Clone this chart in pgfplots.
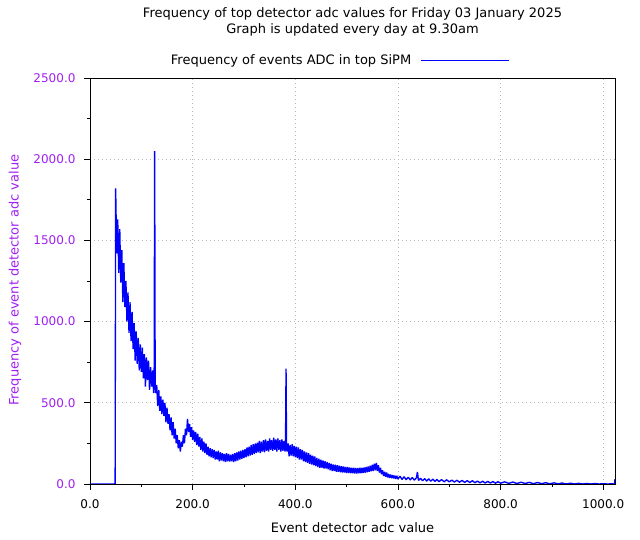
\documentclass[border=0pt]{standalone}
\usepackage{pgfplots}
\pgfplotsset{compat=1.18}
\usepackage{fontspec}
\setmainfont{DejaVu Sans}
\definecolor{gpurple}{RGB}{160,32,240}
\definecolor{gblue}{RGB}{0,0,255}
\begin{document}
\fontsize{13bp}{15bp}\selectfont
\begin{tikzpicture}[x=1bp,y=1bp]
\useasboundingbox (-90,-56) rectangle (550,484);
\begin{axis}[
  at={(0,0)}, anchor=south west,
  scale only axis, width=525bp, height=406bp,
  xmin=0, xmax=1023, ymin=0, ymax=2500,
  xtick={0,200,400,600,800,1000},
  ytick={0,500,1000,1500,2000,2500},
  minor x tick num=1, minor y tick num=1,
  tick align=outside, xtick pos=bottom, ytick pos=left,
  major tick length=6bp, minor tick length=3bp,
  tick style={black, line width=0.7bp},
  axis line style={line width=0.9bp},
  grid=major, major grid style={gray!55, dash pattern=on 1bp off 3bp, line width=0.8bp},
  /pgf/number format/assume math mode=true,
  /pgf/number format/.cd, fixed, fixed zerofill, precision=1, 1000 sep={},
  /pgfplots/.cd,
  yticklabel style={text=gpurple, font=\fontsize{12bp}{14bp}\selectfont, xshift=-4bp},
  xticklabel style={font=\fontsize{12bp}{14bp}\selectfont, yshift=-5bp},
  xlabel={Event detector adc value},
  ylabel={Frequency of event detector adc value},
  ylabel style={text=gpurple, font=\fontsize{13bp}{15bp}\selectfont, at={(axis description cs:-0.1429,0.502)}, anchor=center},
  xlabel style={font=\fontsize{13bp}{15bp}\selectfont, at={(axis description cs:0.5,-0.1084)}, anchor=center},
  legend plot pos=right,
  legend style={draw=none, fill=none, at={(axis description cs:0.150,1.042)}, anchor=west,
    font=\fontsize{13bp}{15bp}\selectfont, inner sep=0pt},
  legend image code/.code={\path[draw=none] (0bp,0bp) -- (8bp,0bp); \draw[#1, line width=1bp] (8bp,0bp) -- (96bp,0bp);},
]
\addplot[gblue, line width=1.35bp, line join=bevel] coordinates {
(0,0)(49,0)(50,1820)(52,1420)(54,1630)(56,1300)(58,1570)(60,1240)(62,1440)(64,1120)(66,1360)(68,1090)
(70,1250)(72,1000)(74,1180)(76,930)(78,1120)(80,880)(82,1060)(84,830)(86,990)(88,760)(90,940)(92,740)
(94,900)(96,700)(98,860)(100,690)(102,840)(104,650)(106,800)(108,600)(110,780)(112,640)(114,760)(116,580)
(118,720)(120,600)(122,700)(124,560)(125,650)(126,2050)(127,600)(128,560)(130,610)(132,480)(134,580)(136,450)
(138,540)(140,430)(142,520)(144,420)(146,500)(148,380)(150,470)(152,370)(154,430)(156,330)(158,410)(160,300)
(162,380)(164,280)(166,340)(168,250)(170,300)(172,220)(174,270)(176,200)(178,260)(180,230)(182,300)(184,250)
(186,340)(188,300)(190,400)(192,320)(194,370)(196,290)(198,350)(200,270)(202,330)(204,260)(206,320)(208,240)
(210,310)(212,230)(214,290)(216,210)(218,280)(220,200)(222,260)(224,190)(226,250)(228,180)(230,230)(232,170)
(234,220)(236,165)(238,215)(240,160)(242,210)(244,150)(246,200)(248,150)(250,205)(252,140)(254,195)(256,145)
(258,190)(260,140)(262,185)(264,135)(266,190)(268,140)(270,185)(272,138)(274,180)(276,140)(278,185)(280,135)
(282,190)(284,140)(286,195)(288,145)(290,200)(292,150)(294,205)(296,155)(298,210)(300,160)(302,215)(304,165)
(306,225)(308,170)(310,230)(312,175)(314,240)(316,180)(318,245)(320,185)(322,250)(324,190)(326,255)(328,195)
(330,265)(332,190)(334,260)(336,200)(338,270)(340,195)(342,275)(344,205)(346,265)(348,200)(350,280)(352,210)
(354,270)(356,205)(358,285)(360,210)(362,275)(364,200)(366,280)(368,210)(370,270)(372,200)(374,275)(376,205)
(378,265)(380,200)(381,250)(382,710)(383,220)(384,200)(386,250)(388,170)(390,240)(392,175)(394,245)(396,170)
(398,235)(400,165)(402,230)(404,160)(406,225)(408,150)(410,215)(412,150)(414,210)(416,140)(418,200)(420,135)
(422,195)(424,130)(426,190)(428,125)(430,180)(432,120)(434,175)(436,115)(438,170)(440,110)(442,160)(444,105)
(446,155)(448,100)(450,150)(452,100)(454,145)(456,95)(458,140)(460,95)(462,135)(464,90)(466,130)(468,85)
(470,125)(472,80)(474,120)(476,80)(478,118)(480,75)(482,115)(484,75)(486,112)(488,72)(490,110)(492,70)
(494,108)(496,70)(498,105)(500,68)(502,105)(504,68)(506,102)(508,66)(510,100)(512,66)(514,100)(516,65)
(518,98)(520,65)(522,98)(524,66)(526,100)(528,66)(530,100)(532,68)(534,102)(536,70)(538,105)(540,72)
(542,108)(544,75)(546,112)(548,78)(550,118)(552,80)(554,125)(556,85)(558,130)(560,80)(562,115)(564,70)
(566,100)(568,60)(570,85)(572,50)(574,75)(576,45)(578,70)(580,40)(582,62)(584,38)(586,58)(588,36)
(590,55)(592,34)(594,52)(596,32)(598,50)(600,30)(604,48)(608,28)(612,45)(616,26)(620,42)(624,25)
(628,40)(632,24)(636,38)(638,74)(640,22)(644,35)(648,20)(652,33)(656,18)(660,32)(664,17)(668,30)
(672,16)(676,28)(680,15)(685,27)(690,14)(695,26)(700,13)(705,24)(710,12)(715,23)(720,11)(725,22)
(730,10)(735,21)(740,9)(745,20)(750,8)(755,18)(760,7)(765,17)(770,6)(775,16)(780,6)(785,15)
(790,5)(795,14)(800,5)(808,13)(816,4)(824,12)(832,3)(840,11)(848,3)(856,10)(864,2)(872,9)
(880,2)(888,8)(896,1)(904,7)(912,1)(920,6)(928,0)(936,5)(944,0)(952,4)(960,0)(968,3)
(976,0)(984,3)(992,0)(1000,2)(1008,0)(1016,1)(1022,0)(1023,30)
};
\addlegendentry{Frequency of events ADC in top SiPM}
\end{axis}
\node[anchor=center] at (262.5,470) {Frequency of top detector adc values for Friday 03 January 2025};
\node[anchor=center] at (262.5,454) {Graph is updated every day at 9.30am};
\end{tikzpicture}
\end{document}
